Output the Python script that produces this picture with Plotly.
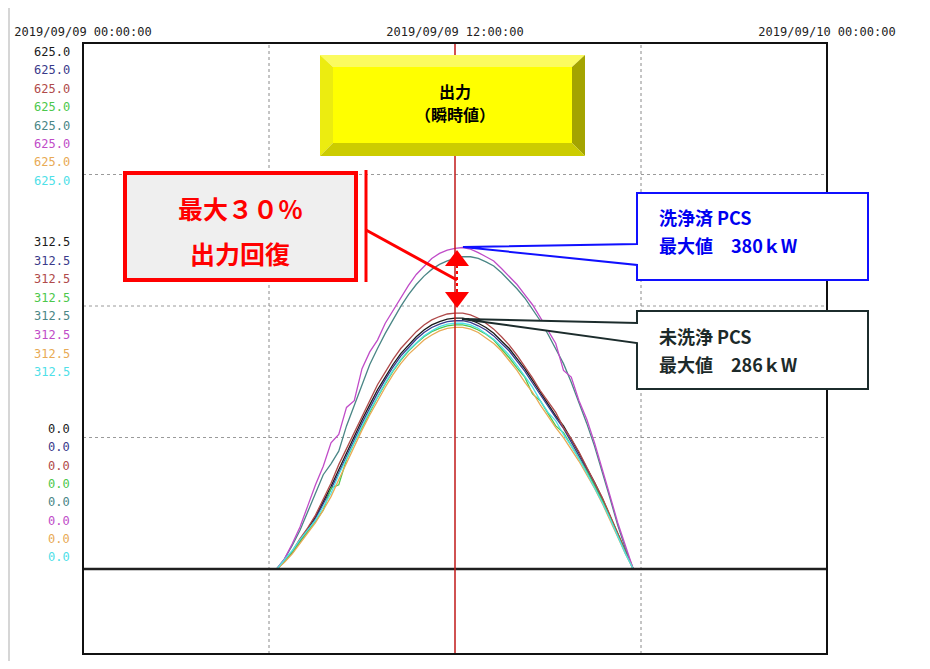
import plotly.graph_objects as go
import pandas as pd

# ---------------- data ----------------
hours = [6.25, 6.5, 6.75, 7.0, 7.25, 7.5, 7.75, 8.0, 8.25, 8.5, 8.75, 9.0, 9.25, 9.5, 9.75,
         10.0, 10.25, 10.5, 10.75, 11.0, 11.25, 11.5, 11.75, 12.0, 12.25, 12.5, 12.75,
         13.0, 13.25, 13.5, 13.75, 14.0, 14.25, 14.5, 14.75, 15.0, 15.25, 15.5, 15.75,
         16.0, 16.25, 16.5, 16.75, 17.0, 17.25, 17.5, 17.75]

ch1_black = [0, 9, 20, 34, 47, 62, 80, 98, 118, 138, 158, 177, 195, 213, 228, 243, 256, 266, 276, 284,
             290, 294, 297, 298, 298, 296, 292, 287, 280, 271, 262, 250, 238, 224, 210, 196, 182, 170,
             154, 138, 120, 103, 84, 63, 41, 20, 0]
ch2_navy = [0, 9, 19, 33, 45, 60, 77, 95, 114, 134, 154, 173, 191, 209, 225, 240, 253, 263, 273, 281,
            287, 291, 294, 295, 295, 293, 289, 284, 277, 268, 259, 247, 235, 221, 207, 193, 180, 167,
            151, 135, 118, 101, 82, 62, 40, 19, 0]
ch3_brown = [0, 10, 21, 36, 49, 64, 83, 102, 124, 143, 163, 182, 201, 219, 234, 249, 262, 272, 282, 290,
             296, 300, 303, 304, 304, 302, 298, 292, 285, 276, 266, 254, 241, 227, 212, 199, 186, 168,
             155, 139, 121, 104, 85, 64, 42, 20, 0]
ch4_green = [0, 9, 20, 32, 44, 57, 70, 96, 100, 130, 150, 168, 187, 204, 220, 235, 248, 259, 268, 276,
             282, 286, 289, 290, 290, 288, 284, 279, 272, 262, 251, 239, 228, 208, 200, 185, 170, 162,
             147, 132, 116, 99, 81, 61, 39, 19, 0]
ch5_teal_cleaned = [0, 12, 28, 46, 68, 90, 112, 125, 140, 170, 195, 220, 243, 262, 280, 296, 312, 326,
                    338, 348, 356, 362, 366, 369, 371, 371, 369, 365, 360, 352, 343, 333, 322, 309, 295,
                    279, 262, 244, 222, 198, 173, 146, 116, 84, 52, 24, 0]
ch6_magenta_cleaned = [0, 12, 30, 50, 75, 100, 122, 150, 160, 192, 200, 238, 258, 272, 292, 307, 322,
                       337, 350, 360, 369, 375, 379, 381, 382, 380, 376, 371, 366, 357, 348, 338, 326,
                       314, 299, 283, 268, 236, 228, 200, 178, 150, 120, 87, 55, 28, 0]
ch7_orange = [0, 8, 18, 30, 42, 55, 70, 86, 106, 126, 146, 165, 183, 200, 216, 231, 244, 255, 264, 272,
              278, 283, 286, 287, 287, 285, 281, 275, 268, 259, 248, 236, 222, 210, 195, 181, 168, 156,
              142, 128, 112, 96, 78, 59, 38, 18, 0]
ch8_cyan = [0, 11, 22, 35, 46, 58, 74, 90, 112, 132, 152, 170, 188, 205, 221, 236, 249, 260, 269, 277,
            283, 288, 291, 292, 292, 290, 286, 280, 273, 264, 254, 242, 229, 216, 200, 186, 176, 160,
            146, 131, 114, 97, 79, 60, 38, 18, 0]

series = [ch1_black, ch2_navy, ch3_brown, ch4_green, ch5_teal_cleaned, ch6_magenta_cleaned, ch7_orange, ch8_cyan]
channel_colors = ["#1a1a1a", "#3a3a8a", "#b04a4a", "#4cc84c", "#4a8686", "#c04cc8", "#e8aa55", "#4ee0e8"]

scale_labels = ["625.0", "312.5", "0.0"]
time_tick_hours = [0, 12, 24]
time_tick_text = ["2019/09/09 00:00:00", "2019/09/09 12:00:00", "2019/09/10 00:00:00"]
grid_hours = [6, 18]
marker_hour = 12
grid_values = [156.25, 312.5, 468.75]
y_range = [-101, 625]

title_lines = ["出力", "（瞬時値）"]
recovery_lines = ["最大３０％", "出力回復"]
cleaned_lines = ["洗浄済 PCS", "最大値　380ｋW"]
uncleaned_lines = ["未洗浄 PCS", "最大値　286ｋW"]

# ---------------- helpers ----------------
day0 = pd.Timestamp("2019-09-09 00:00:00")
def t(h):
    return day0 + pd.Timedelta(hours=h)

times = [t(h) for h in hours]

OFF = 8                        # html body margin
L, R, T, B = 83, 827, 43, 654  # plot area in window pixels
W, H = 930 - 2 * OFF, 669 - 2 * OFF
def px(x):
    return (x - L) / (R - L)
def py(y):
    return (B - y) / (B - T)
def path(points):
    return "M " + " L ".join(f"{px(x):.5f},{py(y):.5f}" for x, y in points) + " Z"

fig = go.Figure()
for vals, col in zip(series, channel_colors):
    fig.add_trace(go.Scatter(x=times, y=vals, mode="lines",
                             line=dict(color=col, width=1.3), showlegend=False,
                             hoverinfo="skip"))

shapes = []
for v in grid_values:
    shapes.append(dict(type="line", xref="paper", yref="y", x0=0, x1=1, y0=v, y1=v,
                       line=dict(color="#9a9a9a", width=1, dash="dot"), layer="below"))
for hh in grid_hours:
    shapes.append(dict(type="line", xref="x", yref="paper", x0=t(hh), x1=t(hh), y0=0, y1=1,
                       line=dict(color="#8a8a8a", width=1, dash="dot"), layer="below"))
shapes.append(dict(type="line", xref="paper", yref="y", x0=0, x1=1, y0=0, y1=0,
                   line=dict(color="#202020", width=2.5), layer="above"))
shapes.append(dict(type="line", xref="x", yref="paper", x0=t(marker_hour), x1=t(marker_hour), y0=0, y1=1,
                   line=dict(color="#c01818", width=1.5), layer="above"))
shapes.append(dict(type="rect", xref="paper", yref="paper", x0=0, x1=1, y0=0, y1=1,
                   line=dict(color="#111111", width=2), layer="above"))
# outer page frame (left rule)
shapes.append(dict(type="line", xref="paper", yref="paper", x0=px(9), x1=px(9), y0=py(8), y1=py(661),
                   line=dict(color="#c8c8c8", width=1.5), layer="above"))

# yellow bevel box
ox0, oy0, ox1, oy1 = 320, 55, 585, 156
ix0, iy0, ix1, iy1 = 333, 67, 572, 143
shapes += [
    dict(type="path", xref="paper", yref="paper", path=path([(ox0, oy0), (ox1, oy0), (ix1, iy0), (ix0, iy0)]),
         fillcolor="#fbfb60", line=dict(width=0), layer="above"),
    dict(type="path", xref="paper", yref="paper", path=path([(ox0, oy0), (ix0, iy0), (ix0, iy1), (ox0, oy1)]),
         fillcolor="#ecec10", line=dict(width=0), layer="above"),
    dict(type="path", xref="paper", yref="paper", path=path([(ox1, oy0), (ox1, oy1), (ix1, iy1), (ix1, iy0)]),
         fillcolor="#a4a400", line=dict(width=0), layer="above"),
    dict(type="path", xref="paper", yref="paper", path=path([(ox0, oy1), (ox1, oy1), (ix1, iy1), (ix0, iy1)]),
         fillcolor="#cccc00", line=dict(width=0), layer="above"),
    dict(type="path", xref="paper", yref="paper", path=path([(ix0, iy0), (ix1, iy0), (ix1, iy1), (ix0, iy1)]),
         fillcolor="#ffff00", line=dict(width=0), layer="above"),
]

# red recovery box
shapes.append(dict(type="rect", xref="paper", yref="paper", x0=px(125), x1=px(356), y0=py(173), y1=py(280),
                   fillcolor="#efefef", line=dict(color="#ff0000", width=4), layer="above"))
shapes.append(dict(type="line", xref="paper", yref="paper", x0=px(366), x1=px(366), y0=py(170), y1=py(282),
                   line=dict(color="#ff0000", width=3), layer="above"))
shapes.append(dict(type="line", xref="paper", yref="paper", x0=px(366), x1=px(457), y0=py(230), y1=py(280),
                   line=dict(color="#ff0000", width=3), layer="above"))
shapes.append(dict(type="line", xref="paper", yref="paper", x0=px(457), x1=px(457), y0=py(265), y1=py(293),
                   line=dict(color="#ff0000", width=2, dash="dot"), layer="above"))
shapes.append(dict(type="path", xref="paper", yref="paper", path=path([(445, 266), (469, 266), (457, 250)]),
                   fillcolor="#ff0000", line=dict(width=0), layer="above"))
shapes.append(dict(type="path", xref="paper", yref="paper", path=path([(445, 292), (469, 292), (457, 308)]),
                   fillcolor="#ff0000", line=dict(width=0), layer="above"))

# callouts
shapes.append(dict(type="path", xref="paper", yref="paper",
                   path=path([(637, 193), (868, 193), (868, 280), (637, 280), (637, 265), (463, 247), (637, 244)]),
                   fillcolor="#ffffff", line=dict(color="#1010ff", width=2), layer="above"))
shapes.append(dict(type="path", xref="paper", yref="paper",
                   path=path([(637, 311), (868, 311), (868, 389), (637, 389), (637, 343), (462, 319), (637, 323)]),
                   fillcolor="#ffffff", line=dict(color="#1c2c2c", width=2), layer="above"))

annotations = []
group_rows = [[52 + i * 18.4 for i in range(8)],
              [242 + i * 18.6 for i in range(8)],
              [429 + i * 18.3 for i in range(8)]]
for lab, rows in zip(scale_labels, group_rows):
    for yy, col in zip(rows, channel_colors):
        annotations.append(dict(xref="paper", yref="paper", x=px(72), y=py(yy), text=lab,
                                showarrow=False, xanchor="right", yanchor="middle",
                                font=dict(family="DejaVu Sans Mono", size=12, color=col)))

cjk = "Noto Sans CJK JP"
for txt, yy in zip(title_lines, [91, 114]):
    annotations.append(dict(xref="paper", yref="paper", x=px(455), y=py(yy), text=f"<b>{txt}</b>",
                            showarrow=False, xanchor="center", yanchor="middle",
                            font=dict(family=cjk, size=16, color="#000000")))
for txt, yy in zip(recovery_lines, [208, 253]):
    annotations.append(dict(xref="paper", yref="paper", x=px(240), y=py(yy), text=f"<b>{txt}</b>",
                            showarrow=False, xanchor="center", yanchor="middle",
                            font=dict(family=cjk, size=25, color="#ff0000")))
for txt, yy in zip(cleaned_lines, [217, 245]):
    annotations.append(dict(xref="paper", yref="paper", x=px(657), y=py(yy), text=f"<b>{txt}</b>",
                            showarrow=False, xanchor="left", yanchor="middle",
                            font=dict(family=cjk, size=18, color="#0000f0")))
for txt, yy in zip(uncleaned_lines, [336, 364]):
    annotations.append(dict(xref="paper", yref="paper", x=px(657), y=py(yy), text=f"<b>{txt}</b>",
                            showarrow=False, xanchor="left", yanchor="middle",
                            font=dict(family=cjk, size=18, color="#1c2a2a")))

fig.update_layout(
    width=W, height=H,
    margin=dict(l=L - OFF, r=W - (R - OFF), t=T - OFF, b=H - (B - OFF), pad=0),
    paper_bgcolor="#ffffff", plot_bgcolor="#ffffff",
    showlegend=False, hovermode=False,
    shapes=shapes, annotations=annotations,
    xaxis=dict(type="date", range=[t(0), t(24)], side="top",
               tickvals=[t(h) for h in time_tick_hours], ticktext=time_tick_text,
               ticks="outside", ticklen=1, tickcolor="rgba(0,0,0,0)",
               showgrid=False, zeroline=False, showline=False,
               tickfont=dict(family="DejaVu Sans Mono", size=12, color="#222222")),
    yaxis=dict(range=y_range, showticklabels=False, showgrid=False, zeroline=False,
               showline=False, ticks=""),
)

fig.write_html("out.html")
